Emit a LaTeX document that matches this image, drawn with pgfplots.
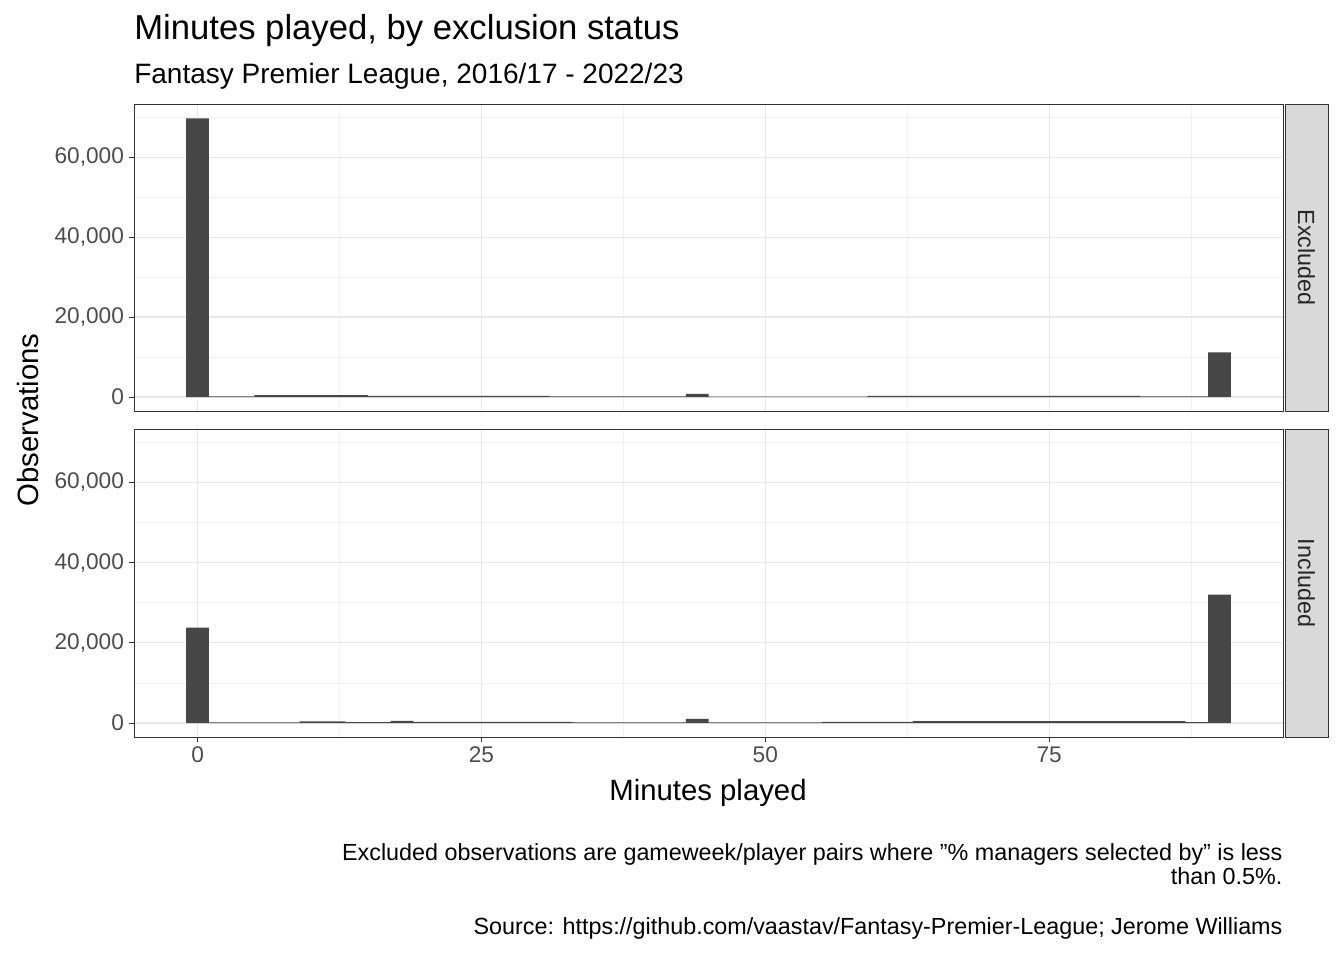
\documentclass[border=0pt]{standalone}
\usepackage{pgfplots}
\pgfplotsset{compat=1.18}
\usepackage{fontspec}
\setmainfont{Liberation Sans}
\definecolor{barc}{HTML}{474747}
\definecolor{stripc}{HTML}{D9D9D9}
\pgfplotsset{
  panel/.style={scale only axis, width=861.75pt, xmin=-5.6, xmax=95.6, ymin=-3490, ymax=73290,
    anchor=south west, axis line style={black!80, line width=0.6pt},
    xtick={0,25,50,75}, minor xtick={12.5,37.5,62.5,87.5},
    ytick={0,20000,40000,60000}, minor ytick={10000,30000,50000,70000},
    xtick pos=bottom, ytick pos=left, scaled ticks=false,
    grid=both, major grid style={black!9, line width=0.9pt}, minor grid style={black!5, line width=0.5pt},
    tick align=outside, major tick length=4pt, minor tick length=0pt,
    tick style={black!80, line width=0.6pt},
    ticklabel style={font=\fontsize{17}{20}\selectfont, text=black!70},
    /pgf/number format/assume math mode=true,
    yticklabel={\pgfmathprintnumber[1000 sep={,}]{\tick}},
    axis on top=false},
  hbar/.style={ybar, bar width=2, fill=barc, draw=none}
}
\begin{document}
\begin{tikzpicture}[x=1pt,y=1pt]
\useasboundingbox (0,0) rectangle (1008,720);
\begin{axis}[panel, at={(100.5pt,411.75pt)}, height=230.25pt, xticklabels={}, xtick style={draw=none}]
\addplot[hbar] coordinates {(0,69700)(2,150)(4,150)(6,500)(8,500)(10,500)(12,500)(14,500)(16,300)(18,300)(20,300)(22,300)(24,300)(26,300)(28,300)(30,300)(32,150)(34,150)(36,150)(38,150)(40,150)(42,150)(44,800)(46,100)(48,100)(50,100)(52,100)(54,100)(56,100)(58,100)(60,300)(62,300)(64,300)(66,300)(68,300)(70,300)(72,300)(74,300)(76,300)(78,300)(80,300)(82,300)(84,150)(86,150)(88,150)(90,11200)};
\end{axis}
\begin{axis}[panel, at={(100.5pt,167.25pt)}, height=231pt]
\addplot[hbar] coordinates {(0,23800)(2,150)(4,150)(6,150)(8,150)(10,400)(12,400)(14,200)(16,200)(18,500)(20,250)(22,250)(24,250)(26,250)(28,250)(30,250)(32,250)(34,150)(36,150)(38,150)(40,150)(42,150)(44,1000)(46,150)(48,150)(50,150)(52,150)(54,150)(56,250)(58,250)(60,250)(62,250)(64,450)(66,450)(68,450)(70,450)(72,450)(74,450)(76,450)(78,450)(80,450)(82,450)(84,450)(86,450)(88,200)(90,32000)};
\end{axis}
\draw[black!80, fill=stripc, line width=0.6pt] (963.75,411.75) rectangle (996,642);
\draw[black!80, fill=stripc, line width=0.6pt] (963.75,167.25) rectangle (996,398.25);
\node[rotate=-90, font=\fontsize{17.5}{20}\selectfont, text=black!85] at (979.9,526.9) {Excluded};
\node[rotate=-90, font=\fontsize{17.5}{20}\selectfont, text=black!85] at (979.9,282.75) {Included};
\node[anchor=base west, font=\fontsize{26}{30}\selectfont, inner sep=0pt] at (100.5,690) {Minutes played, by exclusion status};
\node[anchor=base west, font=\fontsize{21}{25}\selectfont, inner sep=0pt] at (100.5,657) {Fantasy Premier League, 2016/17 - 2022/23};
\node[rotate=90, font=\fontsize{22}{26}\selectfont] at (21,405) {Observations};
\node[font=\fontsize{22}{26}\selectfont] at (531,125) {Minutes played};
\node[anchor=base east, font=\fontsize{17.5}{20}\selectfont, inner sep=0pt] at (962,75) {Excluded observations are gameweek/player pairs where \symbol{34}\% managers selected by\symbol{34} is less\ };
\node[anchor=base east, font=\fontsize{17.5}{20}\selectfont, inner sep=0pt] at (962,57) {than 0.5\%.};
\node[anchor=base east, font=\fontsize{17.5}{20}\selectfont, inner sep=0pt] at (962,19.5) {Source: https://github.com/vaastav/Fantasy-Premier-League; Jerome Williams};
\end{tikzpicture}
\end{document}
